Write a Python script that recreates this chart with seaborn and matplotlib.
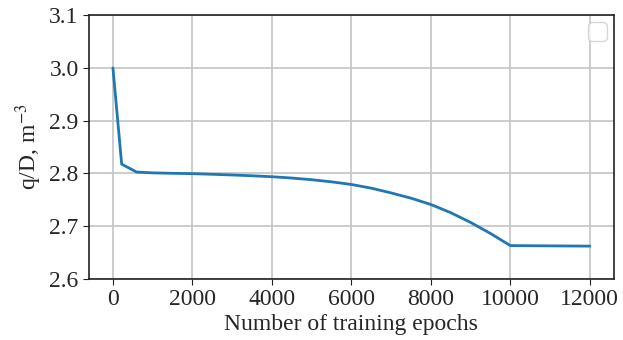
import matplotlib
matplotlib.use("Agg")
import matplotlib.pyplot as plt
import seaborn as sns
import pandas as pd

# Training history of the q/D estimate
epochs = [0, 220, 600, 1000, 1500, 2000, 2500, 3000, 3500, 4000, 4500, 5000, 5500,
          6000, 6500, 7000, 7500, 8000, 8500, 9000, 9500, 10000, 12000]
q_over_d = [3.000, 2.8175, 2.8025, 2.8010, 2.8002, 2.7995, 2.7983, 2.7970, 2.7955,
            2.7937, 2.7912, 2.7880, 2.7840, 2.7790, 2.7720, 2.7630, 2.7530, 2.7410,
            2.7255, 2.7070, 2.6860, 2.6630, 2.6620]

x_ticks = [0, 2000, 4000, 6000, 8000, 10000, 12000]
y_ticks = [2.6, 2.7, 2.8, 2.9, 3.0, 3.1]

sns.set_style("ticks")
plt.rcParams["font.family"] = ["Liberation Serif", "DejaVu Serif"]
plt.rcParams["mathtext.fontset"] = "stix"

df = pd.DataFrame({"epoch": epochs, "q": q_over_d})

fig, ax = plt.subplots(figsize=(6.23, 3.4), dpi=100)
sns.lineplot(data=df, x="epoch", y="q", ax=ax, color="#1f77b4", linewidth=2)

ax.set_xlim(-600, 12600)
ax.set_ylim(2.6, 3.1)
ax.set_xticks(x_ticks)
ax.set_yticks(y_ticks)
ax.set_yticklabels([f"{v:.1f}" for v in y_ticks])
ax.grid(True, color="#c4c4c4", linewidth=1.2)
for s in ax.spines.values():
    s.set_color("#222222")
    s.set_linewidth(1.2)
ax.tick_params(labelsize=17, direction="out", length=4, color="#222222")
ax.set_xlabel("Number of training epochs", fontsize=17, labelpad=3)
ax.set_ylabel("q/D, m$^{-3}$", fontsize=17, labelpad=4)
ax.legend(handles=[], loc="upper right", prop={"size": 17}, borderaxespad=0.3)

fig.subplots_adjust(left=0.143, right=0.985, top=0.955, bottom=0.18)
fig.savefig("out.png", dpi=100)
